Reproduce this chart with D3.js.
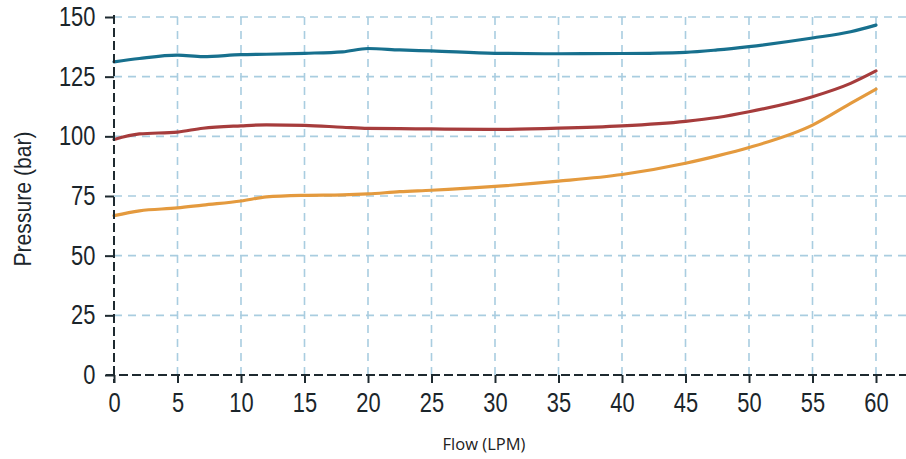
<!DOCTYPE html>
<html>
  <head>
    <meta charset="utf-8" />
    <script src="https://cdnjs.cloudflare.com/ajax/libs/d3/7.8.5/d3.min.js"></script>
    <style>
        body { margin: 0; background: #fff; }
        .grid line { stroke: #a9cde0; stroke-width: 1.6; stroke-dasharray: 8 6; }
        .axis path, .axis line { stroke: #1e2a30; stroke-width: 2; }
        .axis text { font-family: "Liberation Sans", Arial, sans-serif; font-size: 27px; fill: #1b252b; }
        .series { fill: none; stroke-width: 3.2; stroke-linejoin: round; stroke-linecap: round; }
    </style>
  </head>
  <body>
    <script type="text/javascript">

        // flow (LPM) sample points and pressures (bar)
        var flow   = [0, 2, 5, 7, 10, 12, 15, 18, 20, 22.5, 25, 30, 35, 40, 45, 47.5, 50, 55, 58, 60];
        var blue   = [131.2, 132.6, 134, 133.4, 134.2, 134.4, 134.8, 135.4, 136.8, 136.2, 135.8, 134.8, 134.6, 134.7, 135.2, 136.2, 137.6, 141.2, 143.8, 146.6];
        var red    = [98.7, 101, 101.8, 103.4, 104.4, 104.8, 104.6, 103.8, 103.3, 103.2, 103.1, 102.9, 103.4, 104.4, 106.3, 107.9, 110.3, 116.6, 122.2, 127.4];
        var orange = [66.8, 68.8, 70, 71.2, 72.9, 74.6, 75.3, 75.5, 75.9, 76.8, 77.4, 79, 81.2, 84, 88.7, 91.8, 95.3, 104.7, 113.8, 119.8];
        var xTicks = [0, 5, 10, 15, 20, 25, 30, 35, 40, 45, 50, 55, 60];
        var yTicks = [0, 25, 50, 75, 100, 125, 150];

        var width = 906, height = 459;
        var plotLeft = 114, plotTop = 17, plotBottom = 375;
        var plotRight = 876;   // pixel of flow = 60

        var x = d3.scaleLinear().domain([0, 60]).range([plotLeft, plotRight]);
        var y = d3.scaleLinear().domain([0, 150]).range([plotBottom, plotTop]);

        var svg = d3.select("body").append("svg")
            .attr("width", width)
            .attr("height", height);

        // grid
        var grid = svg.append("g").attr("class", "grid");
        grid.selectAll("line.h")
            .data(yTicks.slice(1))
            .enter().append("line")
            .attr("class", "h")
            .attr("x1", plotLeft).attr("x2", width)
            .attr("y1", function(d) { return y(d); })
            .attr("y2", function(d) { return y(d); });
        grid.selectAll("line.v")
            .data(xTicks.slice(1))
            .enter().append("line")
            .attr("class", "v")
            .attr("x1", function(d) { return x(d); })
            .attr("x2", function(d) { return x(d); })
            .attr("y1", plotBottom).attr("y2", plotTop);

        // series
        var line = d3.line()
            .x(function(d) { return x(d[0]); })
            .y(function(d) { return y(d[1]); })
            .curve(d3.curveMonotoneX);

        var series = [
            { vals: orange, color: "#e49a3e" },
            { vals: red,    color: "#a63c3c" },
            { vals: blue,   color: "#17708e" }
        ];

        svg.selectAll("path.series")
            .data(series)
            .enter().append("path")
            .attr("class", "series")
            .attr("stroke", function(d) { return d.color; })
            .attr("d", function(d) {
                return line(flow.map(function(f, i) { return [f, d.vals[i]]; }));
            });

        // axes
        var xAxis = svg.append("g")
            .attr("class", "axis")
            .attr("transform", "translate(0," + plotBottom + ")")
            .call(d3.axisBottom(x).tickValues(xTicks).tickSize(8).tickSizeOuter(0).tickPadding(10));
        xAxis.select("path.domain").remove();
        xAxis.append("line")
            .attr("x1", plotLeft - 8).attr("x2", width)
            .attr("y1", 0).attr("y2", 0)
            .attr("stroke-dasharray", "9 4");
        xAxis.selectAll("text")
            .attr("dy", "0.71em")
            .attr("transform", "scale(0.81,1)");

        var yAxis = svg.append("g")
            .attr("class", "axis")
            .attr("transform", "translate(" + plotLeft + ",0)")
            .call(d3.axisLeft(y).tickValues(yTicks).tickSize(9).tickSizeOuter(0).tickPadding(14));
        yAxis.select("path.domain").remove();
        yAxis.append("line")
            .attr("x1", 0).attr("x2", 0)
            .attr("y1", plotTop - 2).attr("y2", plotBottom + 8)
            .attr("stroke-dasharray", "9 4");
        yAxis.selectAll("text")
            .attr("transform", "scale(0.81,1)");

        // labels
        svg.append("text")
            .attr("transform", "translate(31,199) rotate(-90) scale(0.92,1)")
            .attr("text-anchor", "middle")
            .style("font-family", "Liberation Sans, Arial, sans-serif")
            .style("font-size", "23px")
            .style("fill", "#1b252b")
            .text("Pressure (bar)");

        svg.append("text")
            .attr("x", 484)
            .attr("y", 450)
            .attr("text-anchor", "middle")
            .style("font-family", "Open Sans, Noto Sans, sans-serif")
            .style("font-size", "16.5px")
            .style("fill", "#222")
            .text("Flow (LPM)");

    </script>
  </body>
</html>
